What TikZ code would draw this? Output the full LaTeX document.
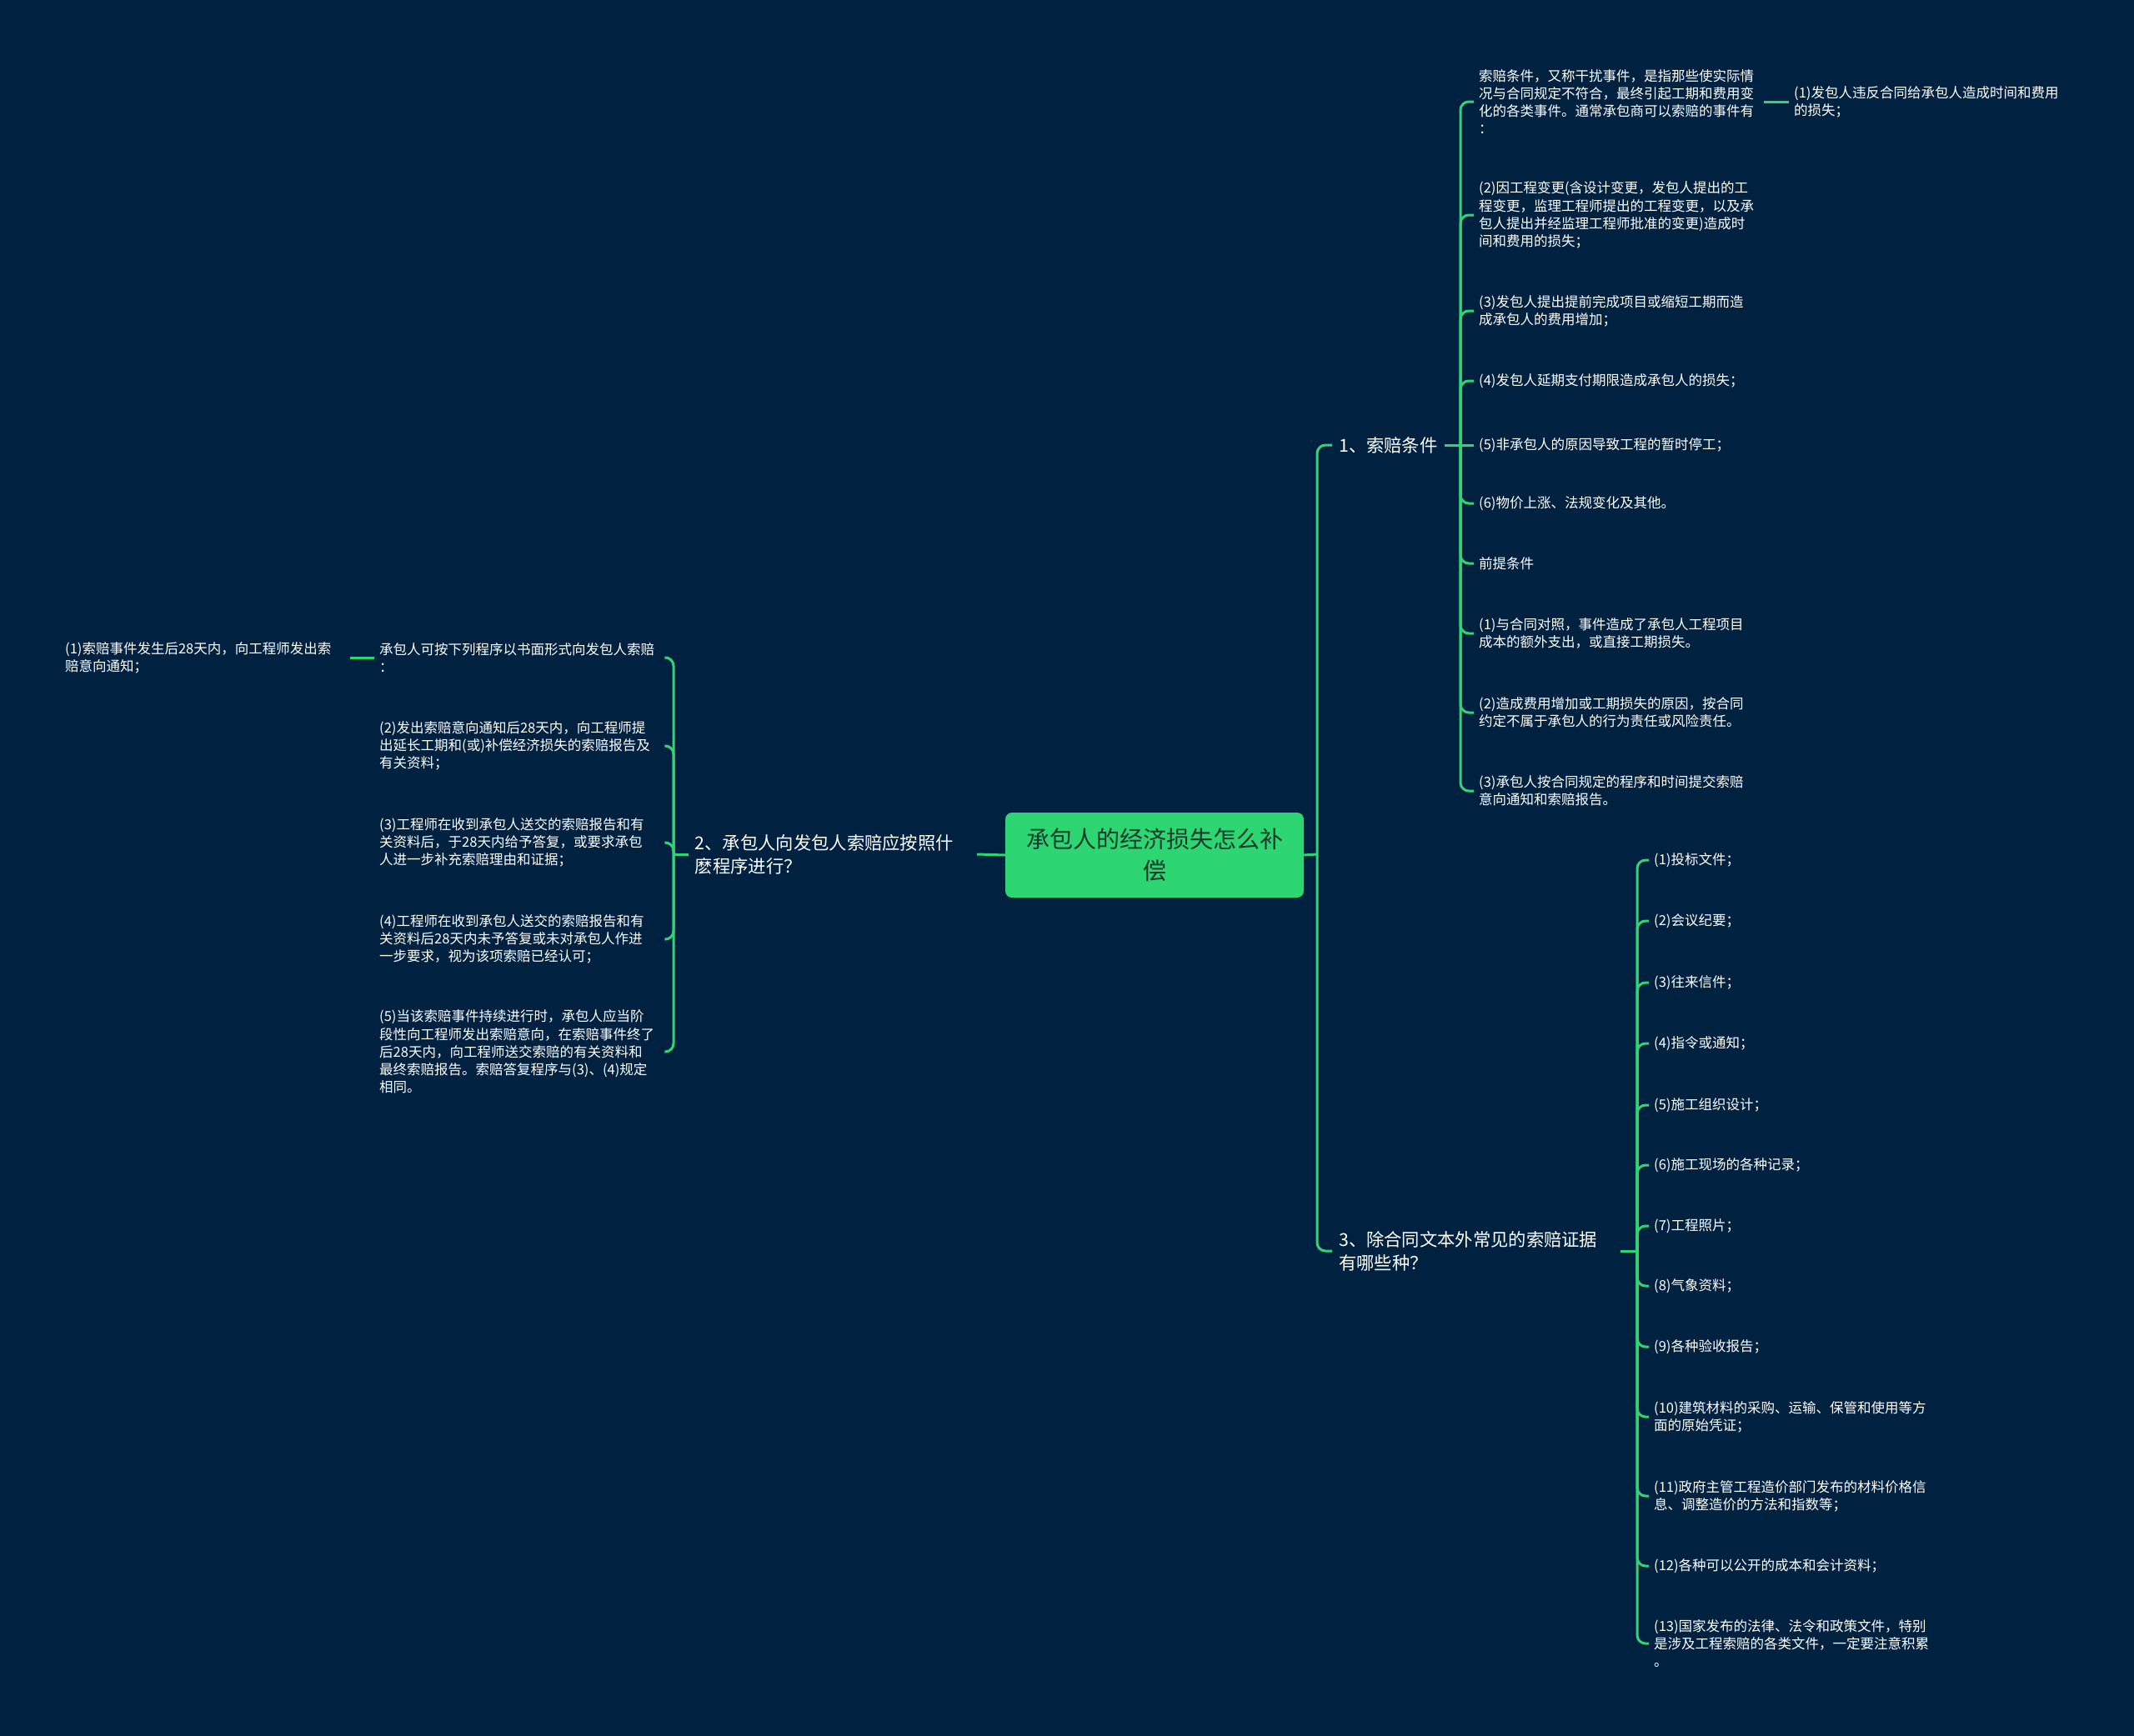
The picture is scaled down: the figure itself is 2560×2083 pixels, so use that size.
\documentclass[tikz,border=0pt]{standalone}
\usepackage{fontspec}
\newfontfamily\cjk{Noto Sans CJK SC}
\definecolor{bgnavy}{RGB}{0,34,64}
\definecolor{leaf}{RGB}{46,213,115}
\definecolor{rootink}{RGB}{24,58,40}
\begin{document}
\begin{tikzpicture}[x=1pt,y=-1pt,
every node/.style={font=\cjk,text=white,inner xsep=6pt,inner ysep=2pt},
item/.style={font=\cjk\fontsize{16.5}{21.2}\selectfont,text width=336pt,align=left,anchor=west},
branch/.style={font=\cjk\fontsize{21.3}{28}\selectfont,align=left,inner xsep=8pt},
root/.style={fill=leaf,text=rootink,rounded corners=8pt,minimum width=358pt,minimum height=102pt,text width=330pt,align=center,inner sep=0pt,font=\cjk\fontsize{28}{38}\selectfont},
link/.style={draw=leaf,line width=3pt,rounded corners=10pt}]
\useasboundingbox (0,0) rectangle (2560,2083);
\fill[bgnavy] (0,0) rectangle (2560,2083);
\node[root] (root) at (1385,1026) {承包人的经济损失怎么补\\偿};
\node[branch,anchor=west] (b1) at (1598,534) {1、索赔条件};
\node[branch,anchor=west,text width=330pt] (b3) at (1598,1501) {3、除合同文本外常见的索赔证据\\有哪些种？};
\node[branch,anchor=east,text width=330pt] (b2) at (1172,1025) {2、承包人向发包人索赔应按照什\\麽程序进行？};
\coordinate (rs) at (1580,1025);
\coordinate (s1) at (1752,534);
\coordinate (s3) at (1964,1501);
\coordinate (s2) at (808,1025);
\draw[link] (root.east) -- (rs);
\draw[link] (rs) |- (b1.west);
\draw[link] (rs) |- (b3.west);
\draw[link] (b1.east) -- (s1);
\draw[link] (b3.east) -- (s3);
\draw[link] (root.west) -- (b2.east);
\draw[link] (b2.west) -- (s2);
\foreach \n/\y/\t in {
a/122/{索赔条件，又称干扰事件，是指那些使实际情\\况与合同规定不符合，最终引起工期和费用变\\化的各类事件。通常承包商可以索赔的事件有\\：},
b/258/{(2)因工程变更(含设计变更，发包人提出的工\\程变更，监理工程师提出的工程变更，以及承\\包人提出并经监理工程师批准的变更)造成时\\间和费用的损失；},
c/373/{(3)发包人提出提前完成项目或缩短工期而造\\成承包人的费用增加；},
d/457/{(4)发包人延期支付期限造成承包人的损失；},
e/534/{(5)非承包人的原因导致工程的暂时停工；},
f/604/{(6)物价上涨、法规变化及其他。},
g/676/{前提条件},
h/760/{(1)与合同对照，事件造成了承包人工程项目\\成本的额外支出，或直接工期损失。},
i/855/{(2)造成费用增加或工期损失的原因，按合同\\约定不属于承包人的行为责任或风险责任。},
j/949/{(3)承包人按合同规定的程序和时间提交索赔\\意向通知和索赔报告。}} {
\node[item] (c1\n) at (1768,\y) {\t};
}
\foreach \n in {a,b,c,d,f,g,h,i,j}
\draw[link] (s1) |- (c1\n.west);
\draw[link] (s1) -- (c1e.west);
\node[item] (c1x) at (2146,122) {(1)发包人违反合同给承包人造成时间和费用\\的损失；};
\draw[link] (c1a.east) -- (c1x.west);
\foreach \n/\y/\t in {
1/1032/{(1)投标文件；},
2/1105/{(2)会议纪要；},
3/1179/{(3)往来信件；},
4/1252/{(4)指令或通知；},
5/1326/{(5)施工组织设计；},
6/1398/{(6)施工现场的各种记录；},
7/1471/{(7)工程照片；},
8/1543/{(8)气象资料；},
9/1616/{(9)各种验收报告；},
10/1700/{(10)建筑材料的采购、运输、保管和使用等方\\面的原始凭证；},
11/1795/{(11)政府主管工程造价部门发布的材料价格信\\息、调整造价的方法和指数等；},
12/1879/{(12)各种可以公开的成本和会计资料；},
13/1972/{(13)国家发布的法律、法令和政策文件，特别\\是涉及工程索赔的各类文件，一定要注意积累\\。}} {
\node[item] (e\n) at (1978,\y) {\t};
\draw[link] (s3) |- (e\n.west);
}
\foreach \n/\y/\t in {
1/789/{承包人可按下列程序以书面形式向发包人索赔\\：},
2/895/{(2)发出索赔意向通知后28天内，向工程师提\\出延长工期和(或)补偿经济损失的索赔报告及\\有关资料；},
3/1011/{(3)工程师在收到承包人送交的索赔报告和有\\关资料后，于28天内给予答复，或要求承包\\人进一步补充索赔理由和证据；},
4/1127/{(4)工程师在收到承包人送交的索赔报告和有\\关资料后28天内未予答复或未对承包人作进\\一步要求，视为该项索赔已经认可；},
5/1262/{(5)当该索赔事件持续进行时，承包人应当阶\\段性向工程师发出索赔意向，在索赔事件终了\\后28天内，向工程师送交索赔的有关资料和\\最终索赔报告。索赔答复程序与(3)、(4)规定\\相同。}} {
\node[item] (l\n) at (449,\y) {\t};
\draw[link] (s2) |- (l\n.east);
}
\node[item] (l1x) at (72,789) {(1)索赔事件发生后28天内，向工程师发出索\\赔意向通知；};
\draw[link] (l1.west) -- (l1x.east);
\end{tikzpicture}
\end{document}
